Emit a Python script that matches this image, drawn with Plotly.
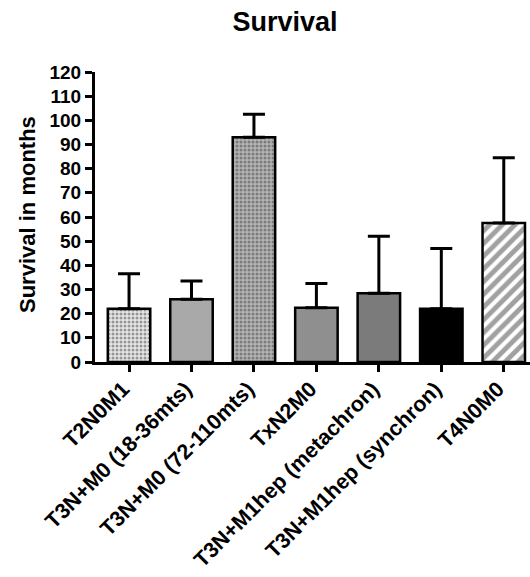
import plotly.graph_objects as go

categories = ["T2N0M1", "T3N+M0 (18-36mts)", "T3N+M0 (72-110mts)", "TxN2M0",
              "T3N+M1hep (metachron)", "T3N+M1hep (synchron)", "T4N0M0"]
survival = [22, 26, 93, 22.5, 28.5, 22, 57.5]
error_up = [14.5, 7.5, 9.5, 10, 23.5, 25, 27]
y_ticks = list(range(0, 121, 10))

bg_colors = ["#e6e6e6", "#a9a9a9", "#b3b3b3", "#8f8f8f", "#7b7b7b", "#000000", "#ffffff"]
fg_colors = ["#8a8a8a", "#a9a9a9", "#6a6a6a", "#8f8f8f", "#7b7b7b", "#000000", "#000000"]
shapes = [".", "", ".", "", "", "", "/"]
sizes = [4, 4, 4, 4, 4, 4, 9]
solid = [0.45, 0.3, 0.45, 0.3, 0.3, 0.3, 0.55]

x = list(range(len(categories)))

W, H = 530, 577
L, T, B = 95, 72, 577 - 362

fig = go.Figure()
fig.add_trace(go.Bar(
    x=x, y=survival, width=0.68,
    marker=dict(
        color=bg_colors,
        line=dict(color="black", width=2.5),
        pattern=dict(shape=shapes, bgcolor=bg_colors, fgcolor=fg_colors,
                     size=sizes, solidity=solid, fillmode="overlay"),
    ),
    error_y=dict(type="data", symmetric=False, array=error_up,
                 arrayminus=[0] * len(error_up), color="black",
                 thickness=3, width=11),
    showlegend=False,
))

FONT = "Arial, Liberation Sans, sans-serif"

fig.update_layout(
    width=W, height=H,
    margin=dict(l=L, r=0, t=T, b=B, autoexpand=False),
    plot_bgcolor="white", paper_bgcolor="white",
    title=dict(text="<b>Survival</b>", x=285 / W, xanchor="center",
               y=1 - 22 / H, yanchor="middle", yref="container",
               font=dict(family=FONT, size=27, color="black")),
    xaxis=dict(
        range=[-0.545, 6.42], tickmode="array", tickvals=x,
        ticktext=["<b>%s</b>" % c for c in categories],
        tickangle=-45, showline=True, linecolor="black", linewidth=3,
        ticks="outside", ticklen=7, tickwidth=3, tickcolor="black",
        showgrid=False, zeroline=False, automargin=False,
        ticklabelstandoff=-4, ticklabelshift=-6,
        tickfont=dict(family=FONT, size=21.5, color="black"),
    ),
    yaxis=dict(
        range=[0, 120], tickmode="array", tickvals=y_ticks,
        ticktext=["<b>%d</b>" % v for v in y_ticks],
        showline=True, linecolor="black", linewidth=3,
        ticks="outside", ticklen=7, tickwidth=3, tickcolor="black",
        showgrid=False, zeroline=False, automargin=False,
        tickfont=dict(family=FONT, size=19, color="black"),
    ),
    annotations=[dict(
        text="<b>Survival in months</b>", textangle=-90,
        xref="paper", yref="paper", x=(27 - L) / (W - L), y=(362 - 215) / 290,
        xanchor="center", yanchor="middle", showarrow=False,
        font=dict(family=FONT, size=22, color="black"),
    )],
)

fig.write_html(
    "out.html",
    config={"displayModeBar": False},
    post_script="document.body.style.margin='0';document.body.style.overflow='hidden';",
)
